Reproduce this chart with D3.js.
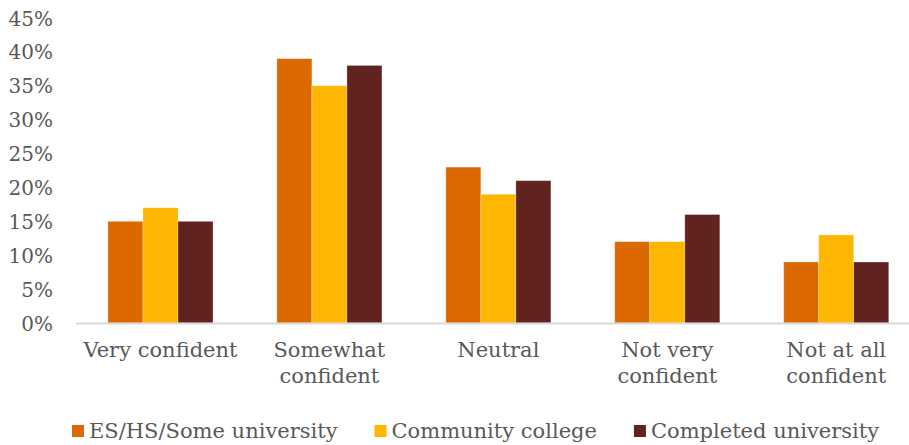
<!DOCTYPE html>
<html>
<head>
<meta charset="utf-8">
<script src="https://cdn.jsdelivr.net/npm/d3@7"></script>
<style>
  html, body { margin: 0; padding: 0; background: #fff; }
  svg { display: block; }
  text { font-family: "DejaVu Serif", Georgia, serif; fill: #595959; }
</style>
</head>
<body>
<svg id="chart" width="909" height="445"></svg>
<script>
// Confidence levels by education
const categories = [["Very confident"], ["Somewhat", "confident"], ["Neutral"], ["Not very", "confident"], ["Not at all", "confident"]];
const seriesNames = ["ES/HS/Some university", "Community college", "Completed university"];
const seriesColors = ["#DC6900", "#FFB600", "#602320"];
const esHsSome = [15, 39, 23, 12, 9];
const communityCollege = [17, 35, 19, 12, 13];
const completedUniversity = [15, 38, 21, 16, 9];
const yTicks = [0, 5, 10, 15, 20, 25, 30, 35, 40, 45];

const seriesValues = [esHsSome, communityCollege, completedUniversity];
const catKeys = categories.map(c => c.join(" "));

const svg = d3.select("#chart");
const plot = { left: 76, right: 920.7, top: 18, bottom: 323 };

const x0 = d3.scaleBand()
  .domain(catKeys)
  .range([plot.left, plot.right])
  .paddingInner(0.378)
  .paddingOuter(0.189);

const x1 = d3.scaleBand()
  .domain(d3.range(seriesNames.length))
  .range([0, x0.bandwidth()]);

const y = d3.scaleLinear().domain([0, 45]).range([plot.bottom, plot.top]);

// Bars
const groups = svg.append("g")
  .selectAll("g")
  .data(catKeys)
  .join("g")
  .attr("transform", d => `translate(${x0(d)},0)`);

groups.selectAll("rect")
  .data((d, i) => seriesValues.map((vals, s) => ({ s, v: vals[i] })))
  .join("rect")
  .attr("x", d => x1(d.s))
  .attr("width", x1.bandwidth())
  .attr("y", d => y(d.v))
  .attr("height", d => y(0) - y(d.v))
  .attr("fill", d => seriesColors[d.s])
  .attr("stroke", "rgba(255,255,255,0.35)")
  .attr("stroke-width", 0.8);

// Baseline
svg.append("line")
  .attr("x1", plot.left).attr("x2", plot.right)
  .attr("y1", y(0) + 0.5).attr("y2", y(0) + 0.5)
  .attr("stroke", "#d9d9d9").attr("stroke-width", 2);

// Y axis labels
const yAxis = d3.axisLeft(y)
  .tickValues(yTicks)
  .tickSize(0)
  .tickPadding(0)
  .tickFormat(d => d + "%");

svg.append("g")
  .attr("transform", "translate(53,0)")
  .call(yAxis)
  .call(g => g.select(".domain").remove())
  .call(g => g.selectAll("text")
    .attr("font-family", "DejaVu Serif, Georgia, serif")
    .attr("font-size", 20)
    .attr("fill", "#595959")
    .attr("dy", "0.35em"));

// Category labels
const catLabels = svg.append("g")
  .selectAll("text")
  .data(categories)
  .join("text")
  .attr("x", (d, i) => x0(catKeys[i]) + x0.bandwidth() / 2)
  .attr("y", 357)
  .attr("text-anchor", "middle")
  .attr("font-size", 21);

catLabels.selectAll("tspan")
  .data(d => d)
  .join("tspan")
  .attr("x", function () { return d3.select(this.parentNode).attr("x"); })
  .attr("dy", (d, i) => i === 0 ? 0 : 26)
  .text(d => d);

// Legend
const legend = svg.append("g").attr("transform", "translate(72,0)");
let lx = 0;
seriesNames.forEach((name, i) => {
  const item = legend.append("g").attr("transform", `translate(${lx},0)`);
  item.append("rect")
    .attr("x", 0).attr("y", 425)
    .attr("width", 12).attr("height", 12)
    .attr("fill", seriesColors[i]);
  const t = item.append("text")
    .attr("x", 17).attr("y", 438)
    .attr("font-size", 21)
    .text(name);
  lx += 17 + t.node().getComputedTextLength() + 37;
});
</script>
</body>
</html>
